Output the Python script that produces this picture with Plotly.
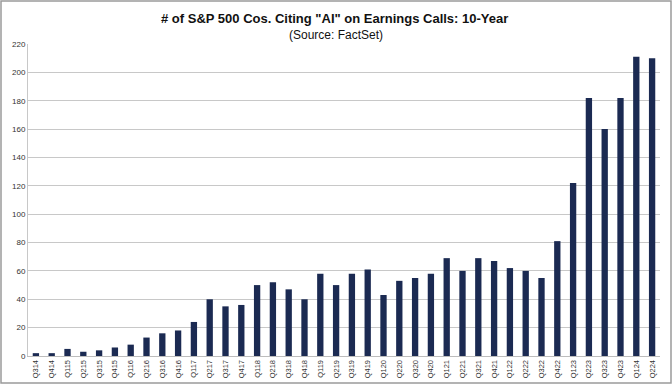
import plotly.graph_objects as go

quarters = ["Q314","Q414","Q115","Q215","Q315","Q415","Q116","Q216","Q316","Q416",
            "Q117","Q217","Q317","Q417","Q118","Q218","Q318","Q418","Q119","Q219",
            "Q319","Q419","Q120","Q220","Q320","Q420","Q121","Q221","Q321","Q421",
            "Q122","Q222","Q322","Q422","Q123","Q223","Q323","Q423","Q124","Q224"]
counts = [2,2,5,3,4,6,8,13,16,18,
          24,40,35,36,50,52,47,40,58,50,
          58,61,43,53,55,58,69,60,69,67,
          62,60,55,81,122,182,160,182,211,210]
y_ticks = [0,20,40,60,80,100,120,140,160,180,200,220]

W, H = 672, 384
ml, mr, mt, mb = 28, 12, 44, 28

fig = go.Figure(go.Bar(x=quarters, y=counts, marker_color="#1b2a52",
                       marker_line_width=0))

pw = W - ml - mr
ph = H - mt - mb
fig.update_layout(
    width=W, height=H,
    margin=dict(l=ml, r=mr, t=mt, b=mb),
    paper_bgcolor="white", plot_bgcolor="white",
    bargap=0.6,
    showlegend=False,
    font=dict(family="Arial, Liberation Sans, sans-serif", color="#333333"),
    annotations=[
        dict(text="<b># of S&P 500 Cos. Citing \"AI\" on Earnings Calls: 10-Year</b>",
             xref="paper", yref="paper", x=(334-ml)/pw, y=1+(mt-18)/ph,
             xanchor="center", yanchor="middle", showarrow=False,
             font=dict(size=13, color="#111111")),
        dict(text="(Source: FactSet)",
             xref="paper", yref="paper", x=(336-ml)/pw, y=1+(mt-35)/ph,
             xanchor="center", yanchor="middle", showarrow=False,
             font=dict(size=12, color="#111111")),
    ],
    shapes=[dict(type="rect", xref="paper", yref="paper",
                 x0=-(ml-1)/pw, x1=1+(mr-1)/pw, y0=-(mb-1)/ph, y1=1+(mt-1)/ph,
                 line=dict(color="#9a9a9a", width=1.5))],
)
fig.update_xaxes(tickangle=-90, tickfont=dict(size=7.5, color="#333333"),
                 showgrid=False, showline=True, linecolor="#bdbdbd", linewidth=1,
                 ticks="", automargin=False)
fig.update_yaxes(range=[0, 220], tickvals=y_ticks, tickfont=dict(size=8, color="#333333"),
                 showgrid=True, gridcolor="#c8c8c8", gridwidth=1,
                 showline=True, linecolor="#c8c8c8", zeroline=False,
                 ticks="", automargin=False)

fig.write_html("out.html", config={"displayModeBar": False},
               post_script="document.body.style.margin='0';document.body.style.overflow='hidden';")
